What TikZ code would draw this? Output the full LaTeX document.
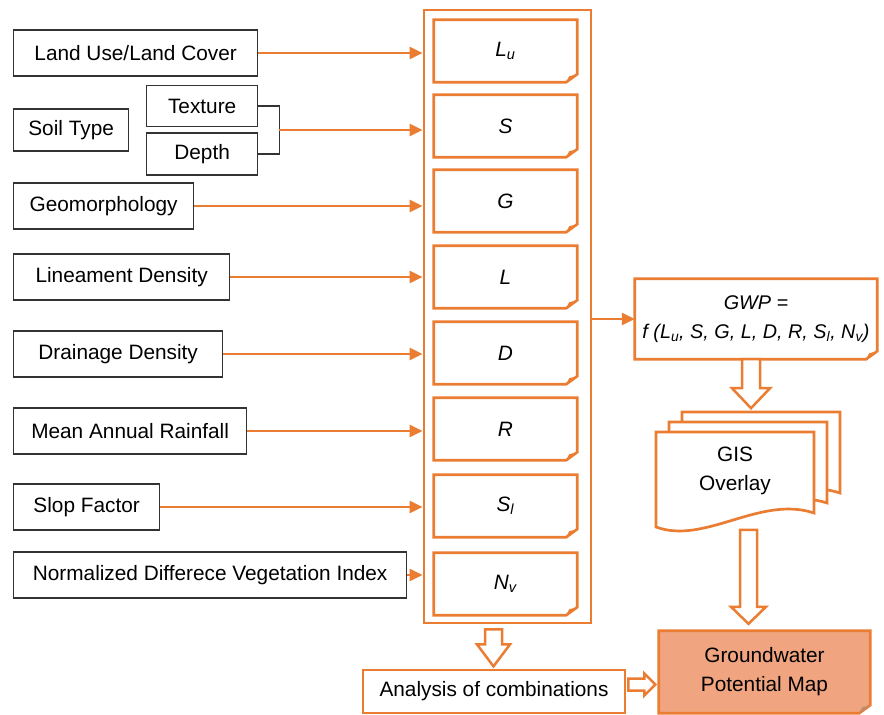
\documentclass[tikz,border=0pt]{standalone}
\usepackage{fontspec}
\setmainfont{Liberation Sans}
\usetikzlibrary{arrows.meta,calc}

\definecolor{gwOrange}{RGB}{235,125,50}
\definecolor{gwSalmon}{RGB}{240,164,128}
\definecolor{gwFold}{RGB}{190,140,110}

\newcommand{\fac}[2]{\textit{#1}\textsubscript{\textit{#2}}}
% outline with a turned-down bottom right corner
\newcommand{\foldnote}[2][gwOrange]{%
  \draw[box] ([yshift=8pt]#2.south east) -- (#2.north east) -- (#2.north west)
    -- (#2.south west) -- ([xshift=-11pt]#2.south east) -- cycle;
  \fill[#1] ([yshift=8pt]#2.south east) -- ([xshift=-11pt]#2.south east)
    -- ([xshift=-8pt,yshift=6pt]#2.south east) -- cycle;}

\begin{document}
\begin{tikzpicture}[
  x=1pt, y=-1pt,
  font=\fontsize{20.8}{29}\selectfont,
  src/.style={draw=black!80, line width=1.3pt, minimum height=46pt, anchor=west, inner sep=0pt},
  fac/.style={minimum width=143pt, minimum height=62pt, inner sep=0pt},
  box/.style={draw=gwOrange, line width=2.7pt},
  link/.style={gwOrange, line width=2.6pt, -{Triangle[length=13pt,width=12pt]}},
  brace/.style={black!80, line width=1.3pt},
  hollow/.style={draw=gwOrange, fill=white, line width=2.5pt}
]
\useasboundingbox (0,0) rectangle (884,715);

% --- input layers ---
\node[src, minimum width=244pt] (lulc) at (13,53) {Land Use/Land Cover};
\node[src, minimum width=115pt, minimum height=42pt] (soil) at (13,130) {Soil Type};
\node[src, minimum width=111pt, minimum height=41pt] (texture) at (146,106) {Texture};
\node[src, minimum width=111pt, minimum height=42pt] (depth) at (146,154) {Depth};
\node[src, minimum width=180pt] (geo) at (13,206) {Geomorphology};
\node[src, minimum width=216pt] (lin) at (13,277) {Lineament Density};
\node[src, minimum width=209pt] (drain) at (13,354) {Drainage Density};
\node[src, minimum width=233pt] (rain) at (13,431) {Mean Annual Rainfall};
\node[src, minimum width=146pt] (slop) at (13,507) {Slop Factor};
\node[src, minimum width=393pt] (ndvi) at (13,575) {Normalized Differece Vegetation Index};

% --- factor stack ---
\node[box, minimum width=167pt, minimum height=613pt, inner sep=0pt] (stack) at (507.5,316.5) {};
\foreach \n/\t/\y in {lu/{\fac{L}{u}}/51, s/{\textit{S}}/126, g/{\textit{G}}/201,
    l/{\textit{L}}/277, d/{\textit{D}}/353, r/{\textit{R}}/429,
    sl/{\fac{S}{l}}/506, nv/{\fac{N}{v}}/584}{
  \node[fac] (\n) at (505.5,\y) {\t};
  \foldnote{\n}
}

% --- layers into the stack ---
\draw[link] (lulc.east) -- (lulc.east -| stack.west);
\draw[brace] (texture.east) -- ++(21,0) coordinate (soiltop) |- (depth.east);
\coordinate (soiljoin) at ($(soiltop)!0.5!(soiltop |- depth.east)$);
\draw[link] (soiljoin) -- (soiljoin -| stack.west);
\draw[link] (geo.east) -- (geo.east -| stack.west);
\draw[link] (lin.east) -- (lin.east -| stack.west);
\draw[link] (drain.east) -- (drain.east -| stack.west);
\draw[link] (rain.east) -- (rain.east -| stack.west);
\draw[link] (slop.east) -- (slop.east -| stack.west);
\draw[link] (ndvi.east) -- (ndvi.east -| stack.west);

% --- model ---
\node[minimum width=242pt, minimum height=80pt, inner sep=0pt, align=center,
  font=\fontsize{19.8}{29}\selectfont] (gwp) at (756,319)
  {\textit{GWP =}\\\itshape f (\fac{L}{u}, S, G, L, D, R, \fac{S}{l}, \fac{N}{v})};
\foldnote{gwp}
\draw[link] (stack.east |- gwp.west) -- (gwp.west);

% GIS overlay (three stacked sheets)
\foreach \dx/\dy in {26/-20, 13/-10, 0/0}
  \draw[box, fill=white, shift={(\dx,\dy)}] (656,432) -- (814,432) -- (814,513)
    .. controls (760,495) and (705,545) .. (656,527) -- cycle;
\node[align=center] (gis) at (735,471) {GIS\\Overlay};

\node[box, minimum width=262pt, minimum height=43pt, inner sep=0pt] (ana) at (494,691.5) {Analysis of combinations};

\node[fill=gwSalmon, minimum width=211pt, minimum height=82pt, inner sep=0pt, align=center] (gw) at (764.5,672)
  {Groundwater\\Potential Map};
\fill[white] ([yshift=8pt]gw.south east) -- (gw.south east) -- ([xshift=-11pt]gw.south east) -- cycle;
\foldnote[gwFold]{gw}

% --- block arrows ---
\draw[hollow] ([xshift=-14pt]gwp.south) -- ++(0,29) -- ++(-10,0) -- ++(19,20)
  -- ++(19,-20) -- ++(-10,0) -- ++(0,-29) -- cycle;
\draw[hollow] ([xshift=-24.5pt,yshift=101pt]gw.north) -- ++(0,77) -- ++(-9,0) -- ++(17.5,17)
  -- ++(17.5,-17) -- ++(-9,0) -- ++(0,-77) -- cycle;
\draw[hollow] ([xshift=-22.5pt,yshift=-5pt]stack.south) -- ++(0,15) -- ++(-8,0) -- ++(16.5,22)
  -- ++(16.5,-22) -- ++(-8,0) -- ++(0,-15) -- cycle;
\draw[hollow] ([xshift=2pt,yshift=13pt]ana.east) -- ++(16,0) -- ++(0,-5) -- ++(11,11)
  -- ++(-11,11) -- ++(0,-5) -- ++(-16,0) -- cycle;

\end{tikzpicture}
\end{document}
